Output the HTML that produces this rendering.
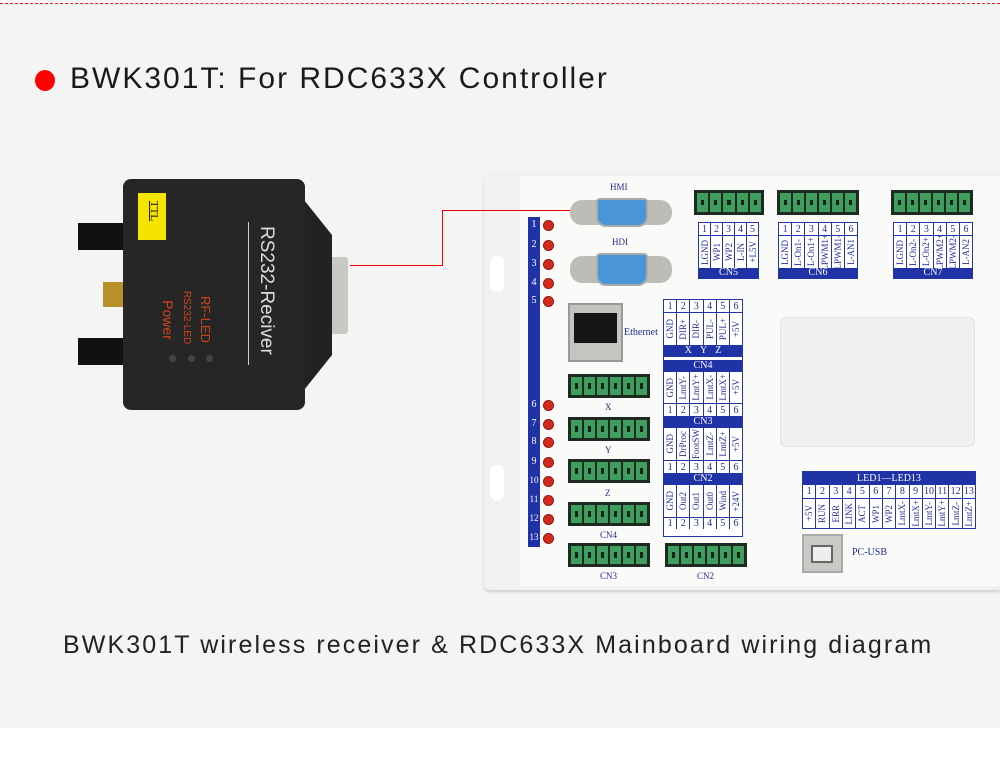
<!DOCTYPE html>
<html><head><meta charset="utf-8"><style>
*{margin:0;padding:0;box-sizing:border-box}
body{width:1000px;height:757px;background:#fff;position:relative;overflow:hidden;font-family:"Liberation Sans",sans-serif}
.a{position:absolute}
.bg{left:0;top:0;width:1000px;height:728px;background:#f4f4f4}
.tb{position:absolute;border:1px solid #2336a8;background:#fff;font-family:"Liberation Serif",serif;color:#1f2f9a;font-size:10px}
.row{display:flex;width:100%}
.row>div{flex:1;border-right:1px solid #2336a8;text-align:center;overflow:hidden;display:flex;align-items:center;justify-content:center}
.row>div:last-child{border-right:none}
.hd{background:#1f32a6;color:#fff;text-align:center;font-size:10px}
.v{writing-mode:vertical-rl;transform:rotate(180deg);font-size:9px;white-space:nowrap}
.gc{position:absolute;background:#1d2a22;padding:3px;display:flex;gap:2px}
.gc>div{flex:1;background:#3f9d5e;position:relative}
.gc>div:after{content:"";position:absolute;left:35%;top:35%;width:30%;height:30%;background:#142018}
.led{position:absolute;width:11px;height:11px;border-radius:50%;background:#d42a1e;border:1px solid #8a1a12;left:543px}
.num{position:absolute;left:528px;width:12px;color:#fff;font-family:"Liberation Serif",serif;font-size:10px;text-align:center}
.lbl{position:absolute;font-family:"Liberation Serif",serif;color:#1f2f9a;font-size:9px;text-align:center}
</style></head><body>
<div class="a bg"></div>
<div class="a" style="left:0;top:3px;width:1000px;border-top:1px dashed #e02020"></div>
<div class="a" style="left:35px;top:70px;width:20px;height:21px;border-radius:50%;background:#f00"></div>
<div class="a" style="left:70px;top:62px;font-size:30px;color:#1a1a1a;letter-spacing:2px;white-space:nowrap">BWK301T: For RDC633X Controller</div>
<div class="a" style="left:63px;top:631px;font-size:25px;color:#222;letter-spacing:2.1px;white-space:nowrap">BWK301T wireless receiver &amp; RDC633X Mainboard wiring diagram</div>

<!-- device -->
<div class="a" style="left:78px;top:223px;width:46px;height:27px;background:#111"></div>
<div class="a" style="left:78px;top:338px;width:46px;height:27px;background:#111"></div>
<div class="a" style="left:103px;top:282px;width:20px;height:25px;background:#b8902a"></div>
<div class="a" style="left:330px;top:257px;width:18px;height:77px;background:#c9c9c4;border-radius:3px"></div>
<div class="a" style="left:300px;top:195px;width:32px;height:200px;background:#222;clip-path:polygon(0 0,100% 20%,100% 80%,0 100%)"></div>
<div class="a" style="left:123px;top:179px;width:182px;height:231px;background:#262626;border-radius:8px"></div>
<div class="a" style="left:138px;top:193px;width:28px;height:47px;background:#f5e400"></div>
<div class="a" style="left:144px;top:205px;font-size:11px;color:#111;transform:rotate(90deg);font-family:'Liberation Serif',serif;text-decoration:underline">TTL</div>
<div class="a" style="left:196px;top:285px;width:140px;font-size:19px;color:#ddd;transform:rotate(90deg);white-space:nowrap">RS232-Reciver</div>
<div class="a" style="left:248px;top:222px;width:1px;height:143px;background:#ccc"></div>
<div class="a" style="left:182px;top:312px;font-size:13px;color:#d2441c;transform:rotate(90deg);white-space:nowrap">RF-LED</div>
<div class="a" style="left:160px;top:312px;font-size:10px;color:#d2441c;transform:rotate(90deg);white-space:nowrap">RS232-LED</div>
<div class="a" style="left:148px;top:312px;font-size:14px;color:#d2441c;transform:rotate(90deg);white-space:nowrap">Power</div>
<div class="a" style="left:169px;top:355px;width:7px;height:7px;border-radius:50%;background:#444"></div>
<div class="a" style="left:188px;top:355px;width:7px;height:7px;border-radius:50%;background:#444"></div>
<div class="a" style="left:206px;top:355px;width:7px;height:7px;border-radius:50%;background:#444"></div>

<!-- board -->
<div class="a" style="left:484px;top:172px;width:516px;height:418px;background:#f1f1ef;border-radius:10px 0 0 6px;box-shadow:0 2px 3px #ccc"></div>
<div class="a" style="left:520px;top:176px;width:480px;height:410px;background:#fafaf8"></div>
<div class="a" style="left:490px;top:256px;width:14px;height:36px;background:#fff;border-radius:7px"></div>
<div class="a" style="left:490px;top:465px;width:14px;height:36px;background:#fff;border-radius:7px"></div>

<!-- red wire -->
<div class="a" style="left:350px;top:265px;width:93px;height:1px;background:#e00"></div>
<div class="a" style="left:442px;top:210px;width:1px;height:56px;background:#e00"></div>
<div class="a" style="left:442px;top:210px;width:155px;height:1px;background:#e00"></div>

<!-- LED strip -->
<div class="a" style="left:528px;top:217px;width:12px;height:330px;background:#1f32a6"></div>
<div class="num" style="top:219px">1</div><div class="num" style="top:239px">2</div><div class="num" style="top:258px">3</div><div class="num" style="top:277px">4</div><div class="num" style="top:295px">5</div>
<div class="num" style="top:399px">6</div><div class="num" style="top:418px">7</div><div class="num" style="top:436px">8</div><div class="num" style="top:456px">9</div><div class="num" style="top:475px;font-size:9px">10</div><div class="num" style="top:494px;font-size:9px">11</div><div class="num" style="top:513px;font-size:9px">12</div><div class="num" style="top:532px;font-size:9px">13</div>
<div class="led" style="top:220px"></div><div class="led" style="top:240px"></div><div class="led" style="top:259px"></div><div class="led" style="top:278px"></div><div class="led" style="top:296px"></div>
<div class="led" style="top:400px"></div><div class="led" style="top:419px"></div><div class="led" style="top:437px"></div><div class="led" style="top:457px"></div><div class="led" style="top:476px"></div><div class="led" style="top:495px"></div><div class="led" style="top:514px"></div><div class="led" style="top:533px"></div>

<!-- DB connectors -->
<div class="lbl" style="left:610px;top:182px">HMI</div>
<div class="a" style="left:570px;top:200px;width:102px;height:25px;background:#bdbdb8;border-radius:12px"></div>
<div class="a" style="left:596px;top:198px;width:52px;height:29px;background:#4a95d8;border:2px solid #aaa;border-radius:4px 4px 10px 10px"></div>
<div class="lbl" style="left:612px;top:237px">HDI</div>
<div class="a" style="left:570px;top:256px;width:102px;height:27px;background:#bdbdb8;border-radius:12px"></div>
<div class="a" style="left:596px;top:253px;width:52px;height:33px;background:#4a95d8;border:2px solid #aaa;border-radius:4px 4px 10px 10px"></div>

<!-- ethernet -->
<div class="a" style="left:568px;top:303px;width:55px;height:59px;background:#c4c4c0;border:2px solid #999"></div>
<div class="a" style="left:574px;top:313px;width:43px;height:30px;background:#151515"></div>
<div class="lbl" style="left:624px;top:327px;font-size:10px">Ethernet</div>

<!-- left green connectors -->
<div class="gc" style="left:568px;top:374px;width:82px;height:24px"><div></div><div></div><div></div><div></div><div></div><div></div></div>
<div class="lbl" style="left:605px;top:402px">X</div>
<div class="gc" style="left:568px;top:417px;width:82px;height:24px"><div></div><div></div><div></div><div></div><div></div><div></div></div>
<div class="lbl" style="left:605px;top:445px">Y</div>
<div class="gc" style="left:568px;top:459px;width:82px;height:24px"><div></div><div></div><div></div><div></div><div></div><div></div></div>
<div class="lbl" style="left:605px;top:488px">Z</div>
<div class="gc" style="left:568px;top:502px;width:82px;height:24px"><div></div><div></div><div></div><div></div><div></div><div></div></div>
<div class="lbl" style="left:600px;top:530px">CN4</div>
<div class="gc" style="left:568px;top:543px;width:82px;height:24px"><div></div><div></div><div></div><div></div><div></div><div></div></div>
<div class="lbl" style="left:600px;top:571px">CN3</div>
<div class="gc" style="left:665px;top:543px;width:82px;height:24px"><div></div><div></div><div></div><div></div><div></div><div></div></div>
<div class="lbl" style="left:697px;top:571px">CN2</div>

<!-- top green connectors -->
<div class="gc" style="left:694px;top:190px;width:70px;height:25px"><div></div><div></div><div></div><div></div><div></div></div>
<div class="gc" style="left:777px;top:190px;width:82px;height:25px"><div></div><div></div><div></div><div></div><div></div><div></div></div>
<div class="gc" style="left:891px;top:190px;width:82px;height:25px"><div></div><div></div><div></div><div></div><div></div><div></div></div>

<!-- CN5 -->
<div class="tb" style="left:698px;top:222px;width:61px;height:57px">
<div class="row" style="height:13px;border-bottom:1px solid #2336a8"><div>1</div><div>2</div><div>3</div><div>4</div><div>5</div></div>
<div class="row" style="height:32px"><div><span class="v">LGND</span></div><div><span class="v">WP1</span></div><div><span class="v">WP2</span></div><div><span class="v">L-IN</span></div><div><span class="v">+L5V</span></div></div>
<div class="hd" style="height:10px;line-height:10px">CN5</div></div>
<!-- CN6 -->
<div class="tb" style="left:778px;top:222px;width:80px;height:57px">
<div class="row" style="height:13px;border-bottom:1px solid #2336a8"><div>1</div><div>2</div><div>3</div><div>4</div><div>5</div><div>6</div></div>
<div class="row" style="height:32px"><div><span class="v">LGND</span></div><div><span class="v">L-On1-</span></div><div><span class="v">L-On1+</span></div><div><span class="v">LPWM1+</span></div><div><span class="v">LPWM1-</span></div><div><span class="v">L-AN1</span></div></div>
<div class="hd" style="height:10px;line-height:10px">CN6</div></div>
<!-- CN7 -->
<div class="tb" style="left:893px;top:222px;width:80px;height:57px">
<div class="row" style="height:13px;border-bottom:1px solid #2336a8"><div>1</div><div>2</div><div>3</div><div>4</div><div>5</div><div>6</div></div>
<div class="row" style="height:32px"><div><span class="v">LGND</span></div><div><span class="v">L-On2-</span></div><div><span class="v">L-On2+</span></div><div><span class="v">LPWM2+</span></div><div><span class="v">LPWM2-</span></div><div><span class="v">L-AN2</span></div></div>
<div class="hd" style="height:10px;line-height:10px">CN7</div></div>

<!-- middle table -->
<div class="tb" style="left:663px;top:299px;width:80px;height:238px">
<div class="row" style="height:13px;border-bottom:1px solid #2336a8"><div>1</div><div>2</div><div>3</div><div>4</div><div>5</div><div>6</div></div>
<div class="row" style="height:32px"><div><span class="v">GND</span></div><div><span class="v">DIR+</span></div><div><span class="v">DIR-</span></div><div><span class="v">PUL-</span></div><div><span class="v">PUL+</span></div><div><span class="v">+5V</span></div></div>
<div class="hd" style="height:12px;line-height:12px;word-spacing:6px">X Y Z</div>
<div style="height:3px"></div>
<div class="hd" style="height:12px;line-height:12px">CN4</div>
<div class="row" style="height:32px;border-bottom:1px solid #2336a8"><div><span class="v">GND</span></div><div><span class="v">LmtY-</span></div><div><span class="v">LmtY+</span></div><div><span class="v">LmtX-</span></div><div><span class="v">LmtX+</span></div><div><span class="v">+5V</span></div></div>
<div class="row" style="height:12px"><div>1</div><div>2</div><div>3</div><div>4</div><div>5</div><div>6</div></div>
<div class="hd" style="height:12px;line-height:12px">CN3</div>
<div class="row" style="height:33px;border-bottom:1px solid #2336a8"><div><span class="v">GND</span></div><div><span class="v">DrProc</span></div><div><span class="v">FootSW</span></div><div><span class="v">LmtZ-</span></div><div><span class="v">LmtZ+</span></div><div><span class="v">+5V</span></div></div>
<div class="row" style="height:12px"><div>1</div><div>2</div><div>3</div><div>4</div><div>5</div><div>6</div></div>
<div class="hd" style="height:12px;line-height:12px">CN2</div>
<div class="row" style="height:33px;border-bottom:1px solid #2336a8"><div><span class="v">GND</span></div><div><span class="v">Out2</span></div><div><span class="v">Out1</span></div><div><span class="v">Out0</span></div><div><span class="v">Wind</span></div><div><span class="v">+24V</span></div></div>
<div class="row" style="height:11px"><div>1</div><div>2</div><div>3</div><div>4</div><div>5</div><div>6</div></div>
</div>

<!-- display window -->
<div class="a" style="left:780px;top:317px;width:195px;height:130px;background:#f0f0ee;border:1px solid #e2e2e0;border-radius:6px"></div>

<!-- LED table -->
<div class="tb" style="left:802px;top:471px;width:174px;height:58px">
<div class="hd" style="height:13px;line-height:13px">LED1—LED13</div>
<div class="row" style="height:14px;border-bottom:1px solid #2336a8"><div>1</div><div>2</div><div>3</div><div>4</div><div>5</div><div>6</div><div>7</div><div>8</div><div>9</div><div>10</div><div>11</div><div>12</div><div>13</div></div>
<div class="row" style="height:29px"><div><span class="v">+5V</span></div><div><span class="v">RUN</span></div><div><span class="v">ERR</span></div><div><span class="v">LINK</span></div><div><span class="v">ACT</span></div><div><span class="v">WP1</span></div><div><span class="v">WP2</span></div><div><span class="v">LmtX-</span></div><div><span class="v">LmtX+</span></div><div><span class="v">LmtY-</span></div><div><span class="v">LmtY+</span></div><div><span class="v">LmtZ-</span></div><div><span class="v">LmtZ+</span></div></div>
</div>

<!-- USB -->
<div class="a" style="left:802px;top:534px;width:41px;height:39px;background:#c9c9c5;border:2px solid #aaa"></div>
<div class="a" style="left:811px;top:545px;width:22px;height:18px;background:#eee;border:2px solid #666"></div>
<div class="lbl" style="left:852px;top:547px;font-size:10px">PC-USB</div>
</body></html>
